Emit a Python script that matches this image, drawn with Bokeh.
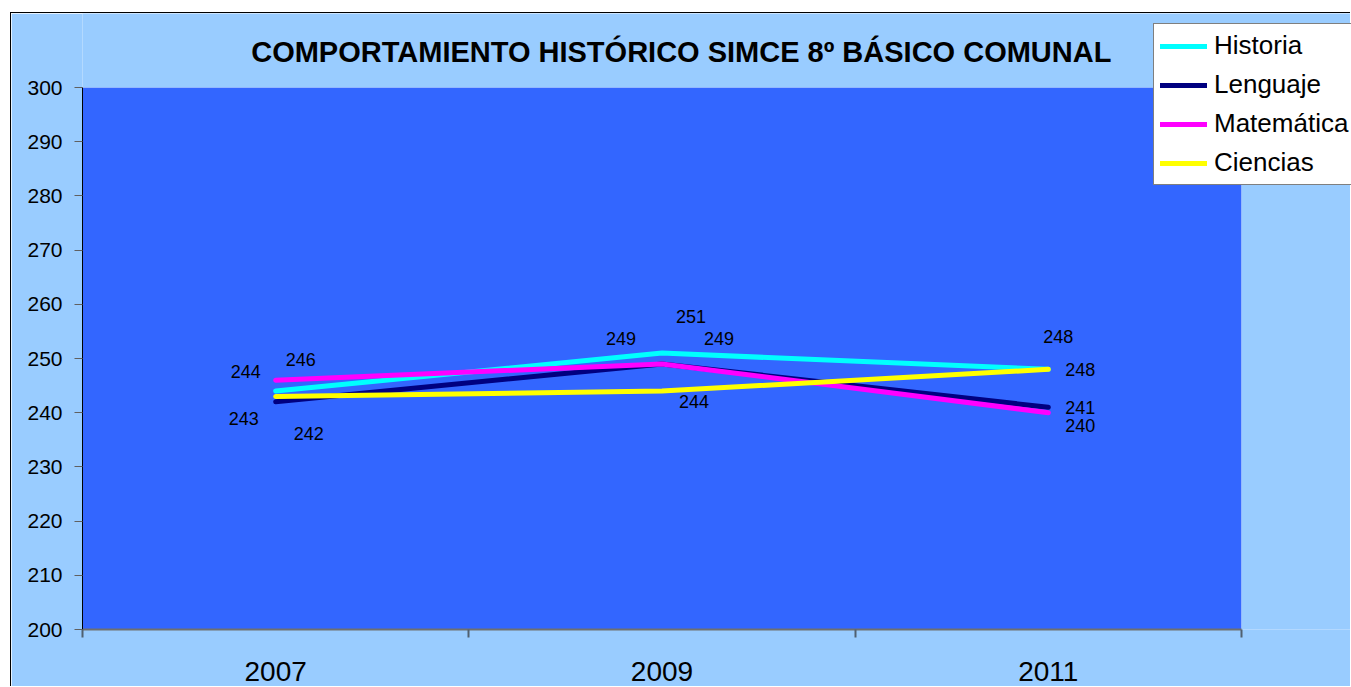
from bokeh.plotting import figure
from bokeh.models import Range1d, FixedTicker, Legend, LegendItem, Label, ColumnDataSource, BoxAnnotation
from bokeh.embed import file_html
from bokeh.resources import INLINE
from bokeh.core.properties import value

# ---- data ----
years = ["2007", "2009", "2011"]
series_names = ["Historia", "Lenguaje", "Matemática", "Ciencias"]
historia = [244, 251, 248]
lenguaje = [242, 249, 241]
matematica = [246, 249, 240]
ciencias = [243, 244, 248]
y_ticks = [200, 210, 220, 230, 240, 250, 260, 270, 280, 290, 300]
title_text = "COMPORTAMIENTO HISTÓRICO SIMCE 8º BÁSICO COMUNAL"

# ---- styles / layout ----
colors = ["#00FFFF", "#000080", "#FF00FF", "#FFFF00"]
# data label screen offsets (px) per series, per year
label_dx = [[-30, 29, 10], [33, -41, 32], [25, 57, 32], [-32, 32, 32]]
label_dy = [[-20, -37, -33], [32, -25, 0], [-21, -25, 13], [22, 10, 0]]

FONT = "Liberation Sans"
ncat = len(years)
xs = [i + 0.5 for i in range(ncat)]
ymin, ymax = y_ticks[0], y_ticks[-1]

# frame geometry (px): plot-area width 1159 / height 542 inside a larger frame
FRAME_W, FRAME_H = 1269, 616
AREA_W, AREA_H = 1159, 542
x_end = ncat * FRAME_W / AREA_W
y_end = ymin + (ymax - ymin) * FRAME_H / AREA_H

p = figure(width=1340, height=674, output_backend="svg", toolbar_location=None,
           x_range=Range1d(0, x_end), y_range=Range1d(ymin, y_end),
           min_border_left=71, min_border_right=0, min_border_top=0, min_border_bottom=58)
p.styles = {"margin-left": "10px", "margin-top": "12px",
            "border-left": "1px solid black", "border-top": "1px solid black"}

p.background_fill_color = "#99CCFF"
p.border_fill_color = "#99CCFF"
p.outline_line_color = None
p.grid.visible = False

# plot area
area = BoxAnnotation(left=0, right=ncat, bottom=ymin, top=ymax, fill_color="#3366FF",
                     fill_alpha=1.0, line_color="white", line_width=1, level="underlay")
p.add_layout(area)

# y axis
p.yaxis.bounds = (ymin, ymax)
p.yaxis.ticker = FixedTicker(ticks=y_ticks)
p.yaxis.major_label_text_font = FONT
p.yaxis.major_label_text_font_size = "21px"
p.yaxis.major_label_text_color = "black"
p.yaxis.major_tick_out = 8
p.yaxis.major_tick_in = 0
p.yaxis.major_tick_line_color = "#606060"
p.yaxis.minor_tick_line_color = None
p.yaxis.axis_line_color = "black"
p.yaxis.major_label_standoff = 12

# x axis: labels at category centers, ticks at boundaries
p.xaxis.bounds = (0, ncat)
p.xaxis.ticker = FixedTicker(ticks=xs, minor_ticks=list(range(ncat + 1)))
p.xaxis.major_label_overrides = {x: y for x, y in zip(xs, years)}
p.xaxis.major_tick_line_color = None
p.xaxis.minor_tick_out = 8
p.xaxis.minor_tick_in = 0
p.xaxis.minor_tick_line_color = "#506070"
p.xaxis.minor_tick_line_width = 2
p.xaxis.axis_line_color = "#707070"
p.xaxis.axis_line_width = 2
p.xaxis.major_label_text_font = FONT
p.xaxis.major_label_text_font_size = "28px"
p.xaxis.major_label_text_color = "black"
p.xaxis.major_label_standoff = 24

all_series = [historia, lenguaje, matematica, ciencias]
items = []
for name, vals, col in zip(series_names, all_series, colors):
    r = p.line(xs, vals, line_color=col, line_width=5, line_cap="round", line_join="round")
    items.append(LegendItem(label=name, renderers=[r]))

for vals, dx, dy in zip(all_series, label_dx, label_dy):
    src = ColumnDataSource(dict(x=xs, y=vals, t=[str(v) for v in vals], dx=dx, dy=dy))
    p.text(x="x", y="y", text="t", x_offset="dx", y_offset="dy", source=src,
           text_font=value(FONT), text_font_size="18px", text_color="black",
           text_align="center", text_baseline="middle")

legend = Legend(items=items, location=(1071, 444))
legend.label_text_font = FONT
legend.label_text_font_size = "26px"
legend.label_text_color = "black"
legend.glyph_width = 47
legend.glyph_height = 30
legend.label_height = 30
legend.label_standoff = 7
legend.spacing = 8
legend.padding = 6
legend.margin = 0
legend.border_line_color = "black"
legend.border_line_width = 1
legend.background_fill_color = "white"
legend.background_fill_alpha = 1.0
p.add_layout(legend)

title = Label(x=1.55, y=306.5, text=title_text, text_font=FONT, text_font_size="29px",
              text_font_style="bold", text_color="black", text_align="center",
              text_baseline="middle")
p.add_layout(title)

open("out.html", "w").write(file_html(p, INLINE))
